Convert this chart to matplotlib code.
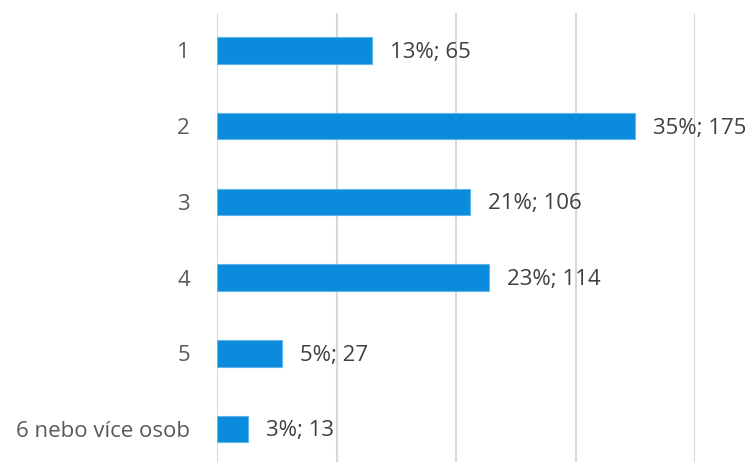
import matplotlib
matplotlib.use("Agg")
import matplotlib.pyplot as plt

categories = ["1", "2", "3", "4", "5", "6 nebo více osob"]
counts = [65, 175, 106, 114, 27, 13]

total = sum(counts)
shares = [c / total * 100 for c in counts]

plt.rcParams["font.family"] = ["Open Sans", "DejaVu Sans"]

W, H = 752, 462
fig = plt.figure(figsize=(W / 100, H / 100), dpi=100)
left, right, top, bottom = 217, 695, 13, 462
ax = fig.add_axes([left / W, 1 - bottom / H, (right - left) / W, (bottom - top) / H])

ypos = list(range(len(categories)))
ax.barh(ypos, shares, height=0.35, color="#0A8BDB", edgecolor="#5DB6EC",
        linewidth=0.8, zorder=3)

for y, s, c in zip(ypos, shares, counts):
    ax.annotate(f"{round(s)}%; {c}", xy=(s, y), xytext=(18, -2),
                textcoords="offset pixels", va="center", ha="left",
                fontsize=16, color="#404040", zorder=4)

ax.set_xlim(0, 40)
ax.set_ylim(5.436, -0.495)
ax.set_xticks([0, 10, 20, 30, 40])
ax.set_xticklabels([])
ax.set_yticks(ypos)
ax.set_yticklabels(categories, fontsize=16, color="#595959")
ax.tick_params(axis="both", length=0)
ax.tick_params(axis="y", pad=19.5)
ax.grid(axis="x", color="#D9D9D9", linewidth=1.5, zorder=0)
ax.grid(axis="y", visible=False)
for sp in ax.spines.values():
    sp.set_visible(False)

fig.savefig("out.png", dpi=100, facecolor="white")
